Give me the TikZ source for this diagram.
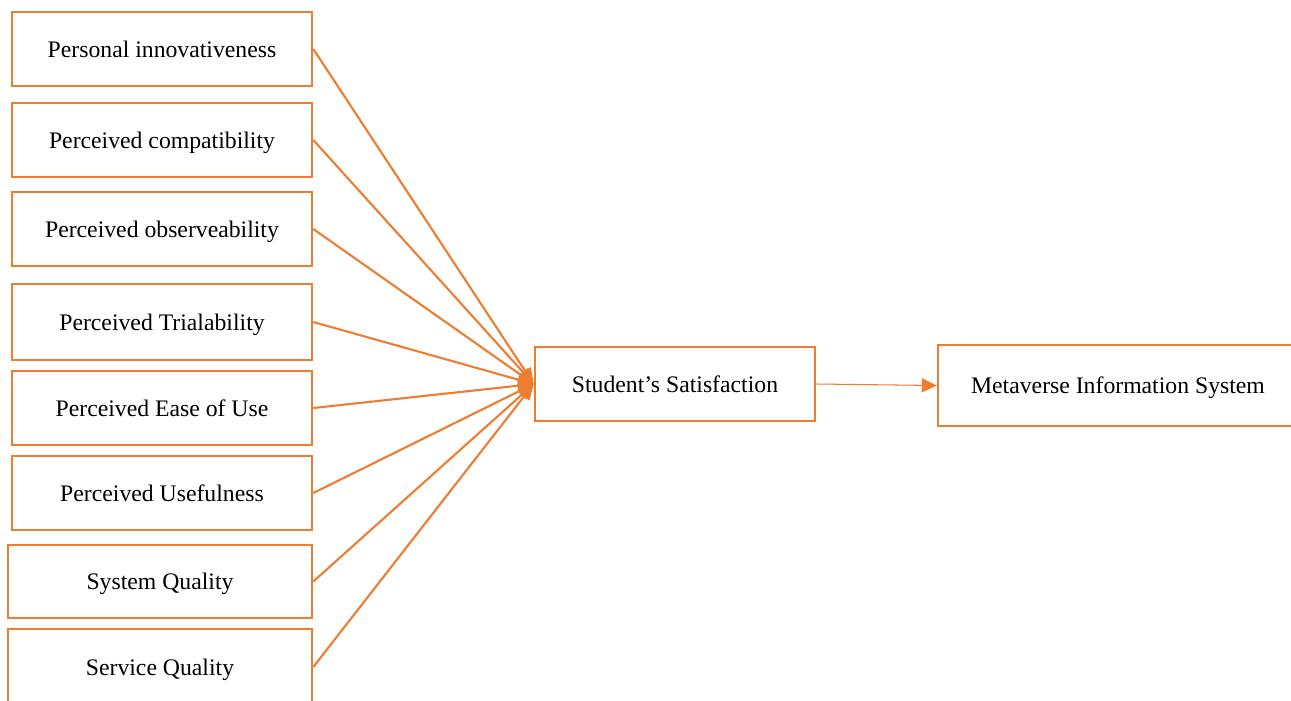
\documentclass[tikz,border=0pt]{standalone}
\usepackage{fontspec}
\setmainfont{Liberation Serif}
\usepackage{tikz}
\usetikzlibrary{arrows.meta}
\definecolor{boxorange}{HTML}{ED7D31}
\tikzset{
  factor/.style={draw=boxorange, line width=1.5pt, minimum width=6cm, minimum height=1.48cm, inner sep=0pt, text height=9.3pt, text depth=0pt},
  link/.style={draw=boxorange, line width=1.2pt, -{Triangle[length=9pt, width=7.5pt]}},
}
\begin{document}
\begin{tikzpicture}[x=0.02cm, y=-0.02cm, font=\fontsize{13.5}{16}\selectfont]
  \useasboundingbox (0,0) rectangle (1291,700);
  % antecedents
  \node[factor] (pinn) at (162,49) {Personal innovativeness};
  \node[factor] (pcom) at (162,140) {Perceived compatibility};
  \node[factor] (pobs) at (162,229) {Perceived observeability};
  \node[factor, minimum height=1.52cm] (ptri) at (162,322) {Perceived Trialability};
  \node[factor] (peou) at (162,408) {Perceived Ease of Use};
  \node[factor] (puse) at (162,493) {Perceived Usefulness};
  \node[factor, minimum width=6.08cm, minimum height=1.46cm] (sysq) at (160,581.5) {System Quality};
  \node[factor, minimum width=6.08cm, minimum height=1.52cm] (serq) at (160,667) {Service Quality};
  % outcome nodes
  \node[factor, minimum width=5.6cm] (sat) at (675,384) {Student’s Satisfaction};
  \node[factor, minimum width=7.2cm, minimum height=1.62cm] (meta) at (1118,385.5) {Metaverse Information System};
  % arrows
  \foreach \src in {pinn,pcom,pobs,ptri,peou,puse,sysq,serq}
    \draw[link] (\src.east) -- (sat.west);
  \draw[draw=boxorange, line width=0.6pt, -{Triangle[length=8.5pt, width=8pt]}] (sat.east) -- (meta.west);
\end{tikzpicture}
\end{document}
